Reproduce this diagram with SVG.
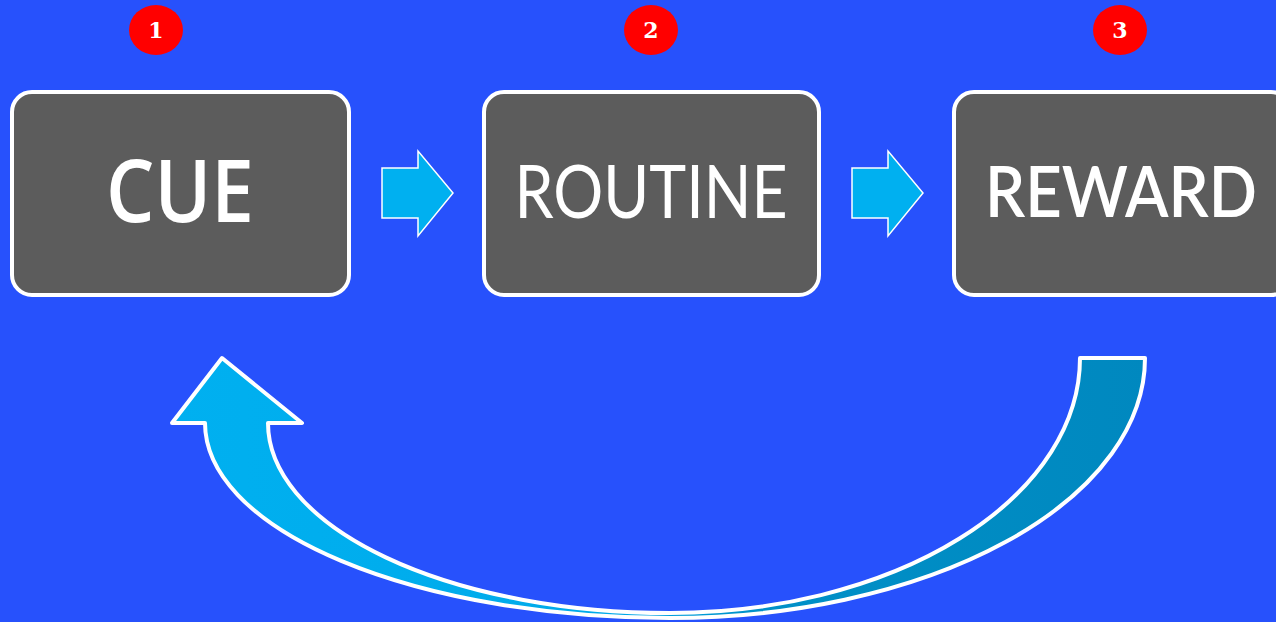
<svg xmlns="http://www.w3.org/2000/svg" width="1276" height="622" viewBox="0 0 1276 622">
<style>
.box{fill:#5C5C5C;stroke:#FFFFFF;stroke-width:4}
.lbl{fill:#FFFFFF;text-anchor:middle}
.badge{fill:#FF0000}
.num{fill:#FFFFFF;font-family:"DejaVu Serif",serif;font-weight:bold;font-size:22px;text-anchor:middle}
.arr{fill:#00B0F0;stroke:#FFFFFF;stroke-width:1.5}
</style>
<defs>
<linearGradient id="g" x1="170" y1="0" x2="1150" y2="0" gradientUnits="userSpaceOnUse">
<stop offset="0" stop-color="#00B0F0"/>
<stop offset="0.45" stop-color="#00AAEA"/>
<stop offset="0.6" stop-color="#0090C8"/>
<stop offset="1" stop-color="#0088BF"/>
</linearGradient>
</defs>
<rect width="1276" height="622" fill="#2751FC"/>
<g id="badge1"><ellipse class="badge" cx="156" cy="30" rx="27" ry="25"/><text class="num" x="156" y="38">1</text></g>
<g id="badge2"><ellipse class="badge" cx="651" cy="30" rx="27" ry="25"/><text class="num" x="651" y="38">2</text></g>
<g id="badge3"><ellipse class="badge" cx="1120" cy="30" rx="27" ry="25"/><text class="num" x="1120" y="38">3</text></g>
<g id="cue"><rect class="box" x="12" y="92" width="337" height="203" rx="20"/><text class="lbl" x="180" y="222" font-family="'Open Sans',sans-serif" font-weight="600" font-size="86" textLength="148" lengthAdjust="spacingAndGlyphs">CUE</text></g>
<g id="routine"><rect class="box" x="484" y="92" width="335" height="203" rx="20"/><text class="lbl" x="651" y="218" font-family="Lato,sans-serif" font-size="74" textLength="273" lengthAdjust="spacingAndGlyphs">ROUTINE</text></g>
<g id="reward"><rect class="box" x="954" y="92" width="337" height="203" rx="20"/><text class="lbl" x="1121" y="217" font-family="Lato,sans-serif" font-weight="600" font-size="72" textLength="272" lengthAdjust="spacingAndGlyphs">REWARD</text></g>
<g id="connectors">
<path class="arr" d="M382 168 L418 168 L418 151 L453 193 L418 236 L418 218 L382 218 Z"/>
<path class="arr" d="M852 168 L888 168 L888 151 L923 193 L888 236 L888 218 L852 218 Z"/>
<path fill="url(#g)" stroke="#FFFFFF" stroke-width="4" stroke-linejoin="round" d="M1080 358 L1145 358 A475 260 0 0 1 670 618 A465 195 0 0 1 205 423 L172 423 L222 358 L302 423 L268 423 A402 190 0 0 0 670 613 A410 255 0 0 0 1080 358 Z"/>
</g>
</svg>
